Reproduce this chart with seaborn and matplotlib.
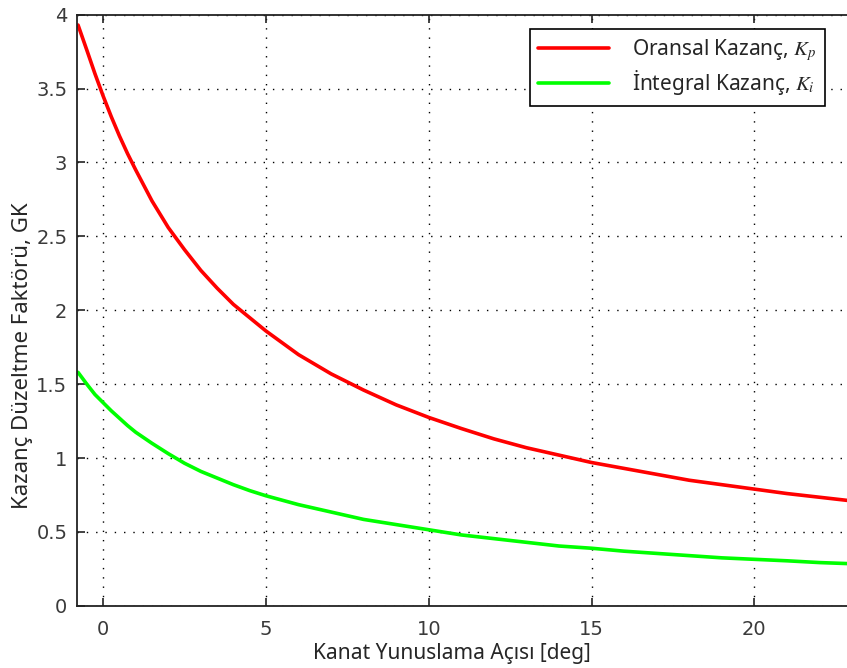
import pandas as pd
import matplotlib
matplotlib.use("Agg")
import matplotlib.pyplot as plt
import seaborn as sns

# -------------------------------
# Data
# -------------------------------
aci = [-0.77, -0.5, -0.25, 0, 0.25, 0.5, 0.75, 1, 1.5, 2, 2.5, 3, 3.5, 4, 4.5,
       5, 6, 7, 8, 9, 10, 11, 12, 13, 14, 15, 16, 17, 18, 19, 20, 21, 22, 23]

kp = [3.93, 3.76, 3.60, 3.45, 3.31, 3.18, 3.06, 2.95, 2.74, 2.56, 2.41, 2.27,
      2.15, 2.04, 1.95, 1.86, 1.70, 1.57, 1.46, 1.36, 1.275, 1.20, 1.13, 1.07,
      1.02, 0.97, 0.93, 0.89, 0.85, 0.82, 0.79, 0.76, 0.735, 0.71]

ki = [1.58, 1.50, 1.43, 1.375, 1.32, 1.27, 1.22, 1.175, 1.10, 1.03, 0.965, 0.91,
      0.865, 0.82, 0.78, 0.745, 0.685, 0.635, 0.585, 0.55, 0.515, 0.48, 0.455,
      0.43, 0.405, 0.39, 0.37, 0.355, 0.34, 0.325, 0.315, 0.305, 0.293, 0.285]

series_names = ["Oransal Kazanç, $K_p$", "İntegral Kazanç, $K_i$"]
series_colors = ["#ff0000", "#00ff00"]

x_ticks = [0, 5, 10, 15, 20]
y_ticks = [0, 0.5, 1, 1.5, 2, 2.5, 3, 3.5, 4]
y_tick_labels = ["0", "0.5", "1", "1.5", "2", "2.5", "3", "3.5", "4"]

df = pd.concat([
    pd.DataFrame({"aci": aci, "gk": kp, "seri": series_names[0]}),
    pd.DataFrame({"aci": aci, "gk": ki, "seri": series_names[1]}),
])

# -------------------------------
# Style
# -------------------------------
sns.set_style("ticks")
plt.rcParams["mathtext.fontset"] = "stix"
plt.rcParams["font.family"] = ["Noto Sans", "DejaVu Sans"]

fig = plt.figure(figsize=(8.47, 6.68), dpi=100)
ax = fig.add_axes([0.091, 0.093, 0.915, 0.885])

sns.lineplot(
    data=df,
    x="aci",
    y="gk",
    hue="seri",
    palette=series_colors,
    linewidth=2.6,
    ax=ax
)

ax.set_xlim(-0.8, 23)
ax.set_ylim(0, 4)
ax.set_xticks(x_ticks)
ax.set_yticks(y_ticks)
ax.set_yticklabels(y_tick_labels)

for lbl in ax.get_xticklabels() + ax.get_yticklabels():
    lbl.set_family(["DejaVu Sans"])
    lbl.set_fontsize(14)
    lbl.set_color("#3a3a3a")

ax.tick_params(direction="in", length=6, width=1.2, colors="#222222",
               top=True, labelcolor="#3a3a3a")
ax.tick_params(axis="x", pad=10)
ax.tick_params(axis="y", pad=7)
ax.grid(True, linestyle=(0, (1, 5.7)), color="black", linewidth=1.0)

for side in ["left", "bottom", "top"]:
    ax.spines[side].set_color("#222222")
    ax.spines[side].set_linewidth(1.3)
ax.spines["right"].set_visible(False)

ax.set_xlabel("Kanat Yunuslama Açısı [deg]", fontsize=15)
ax.set_ylabel("Kazanç Düzeltme Faktörü, GK", fontsize=16)
ax.xaxis.set_label_coords(0.483, -0.063)
ax.yaxis.set_label_coords(-0.057, 0.423)

ax.legend(
    loc="upper left",
    bbox_to_anchor=(0.584, 0.976),
    borderaxespad=0,
    fontsize=15,
    frameon=True,
    fancybox=False,
    edgecolor="black",
    framealpha=1,
    handlelength=3.4,
    handletextpad=1.1,
    borderpad=0.4,
    labelspacing=0.25,
    title=None
)
ax.get_legend().get_frame().set_linewidth(1.2)

plt.savefig("out.png", dpi=100)
